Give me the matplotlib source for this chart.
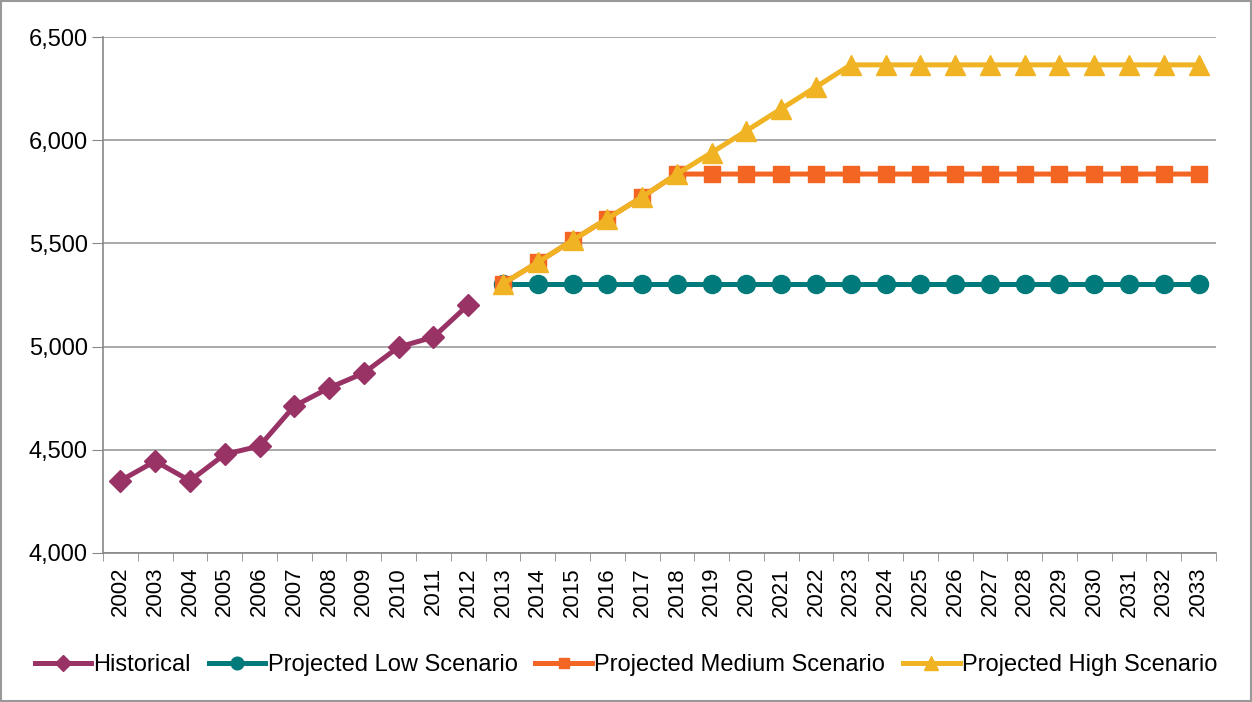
import numpy as np
import matplotlib
matplotlib.use("Agg")
import matplotlib.pyplot as plt
from matplotlib.ticker import FuncFormatter

plt.rcParams['font.family'] = ['Liberation Sans', 'DejaVu Sans']

years = [str(y) for y in range(2002, 2034)]

hist_years = years[:11]
historical = [4350, 4445, 4350, 4478, 4518, 4712, 4800, 4872, 4998, 5046, 5202]

proj_years = years[11:]
low = [5305] * 21
medium = [5305, 5408, 5515, 5620, 5725, 5836] + [5836] * 15
high = [5305, 5408, 5515, 5620, 5725, 5836, 5940, 6046, 6152, 6258, 6365] + [6365] * 10

fig = plt.figure(figsize=(12.52, 7.02), dpi=100)
ax = fig.add_axes([103/1252, 1 - 553/702, (1216-103)/1252, (553-37)/702])

idx = {y: i for i, y in enumerate(years)}
xh = [idx[y] for y in hist_years]
xp = [idx[y] for y in proj_years]

ax.plot(xh, historical, color='#993366', lw=3.6, marker='D', ms=11, label='Historical')
ax.plot(xp, low, color='#007A7A', lw=3.6, marker='o', ms=13, label='Projected Low Scenario')
ax.plot(xp, medium, color='#F26522', lw=3.6, marker='s', ms=11, label='Projected Medium Scenario')
ax.plot(xp, high, color='#F0B323', lw=3.6, marker='^', ms=14, label='Projected High Scenario')

ax.set_xlim(-0.5, len(years) - 0.5)
ax.set_ylim(4000, 6500)
ax.set_yticks(np.arange(4000, 6501, 500))
ax.yaxis.set_major_formatter(FuncFormatter(lambda v, p: f'{int(v):,}'))
ax.set_xticks(range(len(years)))
ax.set_xticklabels(years, rotation=90)
ax.set_xticks(np.arange(-0.5, len(years), 1), minor=True)
ax.tick_params(axis='x', which='major', length=0, labelsize=16, pad=10)
ax.tick_params(axis='x', which='minor', length=6, color='#888888')
ax.tick_params(axis='y', length=8, color='#888888', labelsize=17, pad=3)
ax.grid(axis='y', color='#999999', lw=1.2)
ax.set_axisbelow(True)
for s in ['top', 'right']:
    ax.spines[s].set_visible(False)
for s in ['left', 'bottom']:
    ax.spines[s].set_color('#888888')
    ax.spines[s].set_linewidth(1.2)

fig.legend(loc='center', bbox_to_anchor=(0.5, 1 - 665/702), ncol=4, frameon=False,
           fontsize=17, handlelength=2.4, handletextpad=0.1, columnspacing=0.75,
           markerscale=0.7)

fig.patches.append(plt.Rectangle((0.001, 0.001), 0.998, 0.998, transform=fig.transFigure,
                                 fill=False, edgecolor='#999999', lw=1.5))

fig.savefig('out.png', dpi=100)
